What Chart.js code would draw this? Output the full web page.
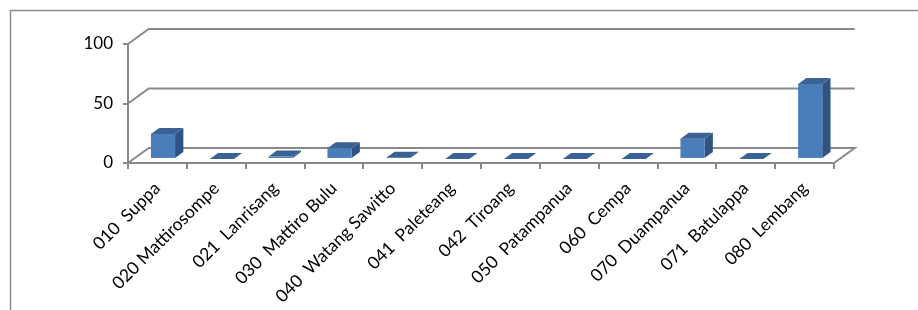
<!DOCTYPE html>
<html>
<head>
<meta charset="utf-8">
<script src="https://cdn.jsdelivr.net/npm/chart.js@4.4.1/dist/chart.umd.min.js"></script>
<style>
  html, body { margin: 0; padding: 0; background: #fff; }
</style>
</head>
<body>
<canvas id="chart" width="918" height="310"></canvas>
<script>
// data
const categories = [
  '010  Suppa', '020 Mattirosompe', '021  Lanrisang', '030  Mattiro Bulu',
  '040  Watang Sawitto', '041  Paleteang', '042  Tiroang', '050  Patampanua',
  '060  Cempa', '070  Duampanua', '071  Batulappa', '080  Lembang'
];
const values = [21, 0, 2, 9, 1, 0, 0, 0, 0, 17, 0, 63];
const yTicks = [0, 50, 100];

// 3d look
const DX = 20.7, DY = 15;      // depth of the floor / walls
const F0 = 0.27, F1 = 0.67;    // where the bars sit inside that depth
const LINE = '#898989';

const box3d = {
  id: 'box3d',
  beforeDraw(chart) {
    const ctx = chart.ctx;
    const { left, right } = chart.chartArea;
    const y = chart.scales.y;
    ctx.save();
    // outer frame of the chart object
    ctx.strokeStyle = '#8c8c8c';
    ctx.lineWidth = 1.5;
    ctx.beginPath();
    ctx.moveTo(10.5, 310);
    ctx.lineTo(10.5, 10.5);
    ctx.lineTo(918, 10.5);
    ctx.stroke();
    // back wall gridlines + floor
    ctx.strokeStyle = LINE;
    ctx.lineWidth = 2;
    yTicks.forEach(v => {
      const py = y.getPixelForValue(v);
      ctx.beginPath();
      ctx.moveTo(left, py);
      ctx.lineTo(left + DX, py - DY);
      ctx.lineTo(right + DX, py - DY);
      if (v === 0) ctx.lineTo(right, py);
      ctx.stroke();
    });
    ctx.restore();
  },
  beforeDatasetsDraw(chart) {
    const ctx = chart.ctx;
    const meta = chart.getDatasetMeta(0);
    const ddx = DX * (F1 - F0), ddy = DY * (F1 - F0);
    ctx.save();
    meta.data.forEach(bar => {
      const w = bar.width;
      const x0 = bar.x - w / 2 + DX * F0, x1 = x0 + w;
      const yt = bar.y - DY * F0, yb = bar.base - DY * F0;
      // side
      ctx.fillStyle = '#2f5382';
      ctx.beginPath();
      ctx.moveTo(x1, yt);
      ctx.lineTo(x1 + ddx, yt - ddy);
      ctx.lineTo(x1 + ddx, yb - ddy);
      ctx.lineTo(x1, yb);
      ctx.closePath();
      ctx.fill();
      // front
      ctx.fillStyle = '#4a7ebb';
      ctx.fillRect(x0, yt, w, yb - yt);
      // top
      ctx.fillStyle = '#3a6295';
      ctx.beginPath();
      ctx.moveTo(x0, yt);
      ctx.lineTo(x0 + ddx, yt - ddy);
      ctx.lineTo(x1 + ddx, yt - ddy);
      ctx.lineTo(x1, yt);
      ctx.closePath();
      ctx.fill();
    });
    ctx.restore();
    return false;
  }
};

new Chart(document.getElementById('chart'), {
  type: 'bar',
  data: {
    labels: categories,
    datasets: [{
      data: values,
      backgroundColor: '#4a7ebb',
      categoryPercentage: 1,
      barPercentage: 0.41
    }]
  },
  options: {
    responsive: false,
    animation: false,
    layout: { padding: { top: 44, right: 84, left: 0, bottom: 0 } },
    plugins: { legend: { display: false }, tooltip: { enabled: false } },
    scales: {
      x: {
        afterFit: s => { s.height = 147; },
        grid: { drawOnChartArea: false, drawTicks: true, tickLength: 6, color: LINE, lineWidth: 2 },
        border: { color: LINE, width: 2 },
        ticks: {
          autoSkip: false, minRotation: 45, maxRotation: 45, padding: 9,
          color: '#000', font: { family: 'Lato', size: 17.5 }
        }
      },
      y: {
        min: 0, max: 100,
        afterFit: s => { s.width = 128; },
        afterBuildTicks: s => { s.ticks = yTicks.map(v => ({ value: v })); },
        grid: { drawOnChartArea: false, drawTicks: true, tickLength: 5, color: LINE, lineWidth: 2 },
        border: { color: LINE, width: 2 },
        ticks: { padding: 10, color: '#000', font: { family: 'Lato', size: 17 } }
      }
    }
  },
  plugins: [box3d]
});
</script>
</body>
</html>
